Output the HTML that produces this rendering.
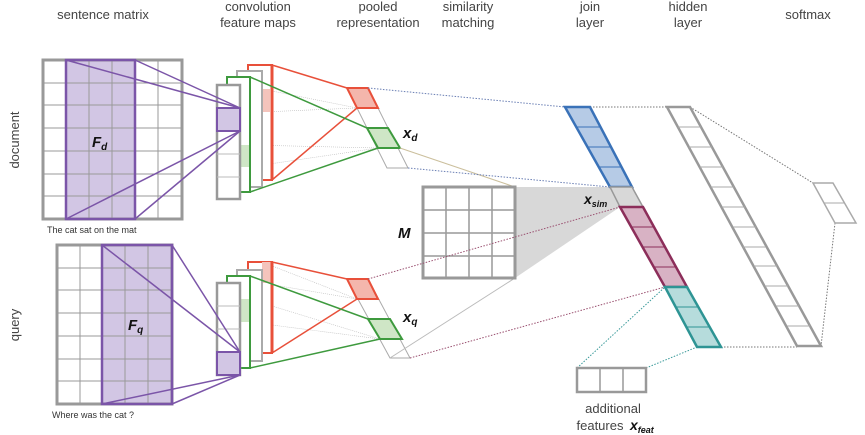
<!DOCTYPE html>
<html><head><meta charset="utf-8"><style>
html,body{margin:0;padding:0;background:#fff;}
svg{display:block;font-family:"Liberation Sans",sans-serif;}
.h{font-size:13px;fill:#444;text-anchor:middle;}
.w{font-size:9px;fill:#333;}
.b{font-weight:bold;font-style:italic;fill:#111;}
</style></head><body>
<svg width="865" height="435" viewBox="0 0 865 435">
<!-- headers -->
<text class="h" x="103" y="19">sentence matrix</text>
<text class="h" x="258" y="11">convolution</text>
<text class="h" x="258" y="27">feature maps</text>
<text class="h" x="378" y="11">pooled</text>
<text class="h" x="378" y="27">representation</text>
<text class="h" x="468" y="11">similarity</text>
<text class="h" x="468" y="27">matching</text>
<text class="h" x="590" y="11">join</text>
<text class="h" x="590" y="27">layer</text>
<text class="h" x="688" y="11">hidden</text>
<text class="h" x="688" y="27">layer</text>
<text class="h" x="808" y="19">softmax</text>
<text class="h" transform="translate(19,140) rotate(-90)">document</text>
<text class="h" transform="translate(19,325) rotate(-90)">query</text>

<!-- faint connector lines conv->pooled -->
<g stroke="#bbb" stroke-width="0.6" stroke-dasharray="1,1" fill="none">
<line x1="262" y1="89" x2="357" y2="108"/><line x1="262" y1="112" x2="357" y2="108"/>
<line x1="249" y1="145" x2="378" y2="148"/><line x1="249" y1="167" x2="378" y2="148"/>
<line x1="262" y1="262" x2="357" y2="299"/><line x1="262" y1="283" x2="357" y2="299"/>
<line x1="249" y1="299" x2="380" y2="339"/><line x1="249" y1="322" x2="380" y2="339"/>
</g>

<!-- doc sentence matrix -->
<rect x="66" y="60" width="69" height="159" fill="#d2c6e4"/>
<g stroke="#999" stroke-width="1">
<line x1="66" y1="60" x2="66" y2="219"/><line x1="89" y1="60" x2="89" y2="219"/><line x1="112" y1="60" x2="112" y2="219"/><line x1="135" y1="60" x2="135" y2="219"/><line x1="158" y1="60" x2="158" y2="219"/>
<line x1="43" y1="83" x2="182" y2="83"/><line x1="43" y1="105" x2="182" y2="105"/><line x1="43" y1="128" x2="182" y2="128"/><line x1="43" y1="151" x2="182" y2="151"/><line x1="43" y1="174" x2="182" y2="174"/><line x1="43" y1="196" x2="182" y2="196"/>
</g>
<rect x="43" y="60" width="139" height="159" fill="none" stroke="#999" stroke-width="3"/>
<rect x="66" y="60" width="69" height="159" fill="none" stroke="#7b55a8" stroke-width="2.5"/>
<text class="b" x="92" y="147" font-size="15">F<tspan font-size="10" dy="3">d</tspan></text>
<text class="w" x="47" y="233">The  cat  sat  on  the  mat</text>

<!-- doc conv maps -->
<rect x="248" y="65" width="24" height="115" fill="#fff" stroke="#e8503a" stroke-width="2"/>
<rect x="262" y="89" width="8" height="23" fill="#f4c4bc"/>
<line x1="272" y1="65" x2="272" y2="180" stroke="#e8503a" stroke-width="3"/>
<rect x="237" y="71" width="25" height="116" fill="#fff" stroke="#aaa" stroke-width="2"/>
<rect x="227" y="77" width="23" height="115" fill="#fff" stroke="#3e9a3e" stroke-width="2"/>
<rect x="241" y="145" width="8" height="22" fill="#cfe6c6"/>
<rect x="217" y="85" width="23" height="114" fill="#fff" stroke="#999" stroke-width="2.5"/>
<g stroke="#bbb"><line x1="217" y1="131" x2="240" y2="131"/><line x1="217" y1="154" x2="240" y2="154"/><line x1="217" y1="177" x2="240" y2="177"/></g>
<rect x="217" y="108" width="23" height="23" fill="#d2c6e4" stroke="#7b55a8" stroke-width="2"/>
<g stroke="#7b55a8" stroke-width="1.5"><line x1="66" y1="60" x2="240" y2="108"/><line x1="135" y1="60" x2="240" y2="108"/><line x1="66" y1="219" x2="240" y2="131"/><line x1="135" y1="219" x2="240" y2="131"/></g>

<!-- doc pooled -->
<polygon points="347,88 368,88 408,168 387,168" fill="#fff" stroke="#aaa" stroke-width="1"/>
<polygon points="347,88 368,88 378,108 357,108" fill="#f4b6ac" stroke="#e8503a" stroke-width="2"/>
<polygon points="367,128 388,128 400,148 378,148" fill="#cfe6c6" stroke="#3e9a3e" stroke-width="2"/>
<g stroke="#e8503a" stroke-width="1.5"><line x1="272" y1="65" x2="347" y2="88"/><line x1="272" y1="180" x2="357" y2="108"/></g>
<g stroke="#3e9a3e" stroke-width="1.5"><line x1="250" y1="77" x2="367" y2="128"/><line x1="250" y1="192" x2="378" y2="148"/></g>
<text class="b" x="403" y="138" font-size="15">x<tspan font-size="10" dy="3">d</tspan></text>

<!-- query matrix -->
<rect x="102" y="245" width="70" height="159" fill="#d2c6e4"/>
<g stroke="#999" stroke-width="1">
<line x1="80" y1="245" x2="80" y2="404"/><line x1="102" y1="245" x2="102" y2="404"/><line x1="125" y1="245" x2="125" y2="404"/><line x1="148" y1="245" x2="148" y2="404"/>
<line x1="57" y1="268" x2="172" y2="268"/><line x1="57" y1="290" x2="172" y2="290"/><line x1="57" y1="313" x2="172" y2="313"/><line x1="57" y1="336" x2="172" y2="336"/><line x1="57" y1="359" x2="172" y2="359"/><line x1="57" y1="381" x2="172" y2="381"/>
</g>
<rect x="57" y="245" width="115" height="159" fill="none" stroke="#999" stroke-width="3"/>
<rect x="102" y="245" width="70" height="159" fill="none" stroke="#7b55a8" stroke-width="2.5"/>
<text class="b" x="128" y="330" font-size="15">F<tspan font-size="10" dy="3">q</tspan></text>
<text class="w" x="52" y="418">Where was  the   cat    ?</text>

<!-- query conv -->
<rect x="248" y="262" width="24" height="91" fill="#fff" stroke="#e8503a" stroke-width="2"/>
<rect x="262" y="262" width="9" height="21" fill="#f4c4bc"/>
<line x1="272" y1="262" x2="272" y2="353" stroke="#e8503a" stroke-width="3"/>
<rect x="237" y="270" width="25" height="91" fill="#fff" stroke="#aaa" stroke-width="2"/>
<rect x="227" y="276" width="23" height="92" fill="#fff" stroke="#3e9a3e" stroke-width="2"/>
<rect x="241" y="299" width="8" height="23" fill="#cfe6c6"/>
<rect x="217" y="283" width="23" height="92" fill="#fff" stroke="#999" stroke-width="2.5"/>
<g stroke="#bbb"><line x1="217" y1="306" x2="240" y2="306"/><line x1="217" y1="329" x2="240" y2="329"/></g>
<rect x="217" y="352" width="23" height="23" fill="#d2c6e4" stroke="#7b55a8" stroke-width="2"/>
<g stroke="#7b55a8" stroke-width="1.5"><line x1="102" y1="245" x2="240" y2="352"/><line x1="172" y1="245" x2="240" y2="352"/><line x1="102" y1="404" x2="240" y2="375"/><line x1="172" y1="404" x2="240" y2="375"/></g>

<!-- query pooled -->
<polygon points="347,279 368,279 410,358 390,358" fill="#fff" stroke="#aaa" stroke-width="1"/>
<polygon points="347,279 368,279 378,299 357,299" fill="#f4b6ac" stroke="#e8503a" stroke-width="2"/>
<polygon points="368,319 390,319 402,339 380,339" fill="#cfe6c6" stroke="#3e9a3e" stroke-width="2"/>
<g stroke="#e8503a" stroke-width="1.5"><line x1="272" y1="262" x2="347" y2="279"/><line x1="272" y1="353" x2="357" y2="299"/></g>
<g stroke="#3e9a3e" stroke-width="1.5"><line x1="250" y1="276" x2="368" y2="319"/><line x1="250" y1="368" x2="380" y2="339"/></g>
<text class="b" x="403" y="322" font-size="15">x<tspan font-size="10" dy="3">q</tspan></text>

<!-- M and similarity -->
<polygon points="515,187 614,187 620,207 515,278" fill="#d8d8d8"/>
<line x1="400" y1="148" x2="515" y2="187" stroke="#cbbf9c" stroke-width="1"/>
<line x1="390" y1="358" x2="515" y2="278" stroke="#bbb" stroke-width="1"/>
<rect x="423" y="187" width="92" height="91" fill="#fff" stroke="#999" stroke-width="3"/>
<g stroke="#999" stroke-width="1.5"><line x1="446" y1="187" x2="446" y2="278"/><line x1="469" y1="187" x2="469" y2="278"/><line x1="492" y1="187" x2="492" y2="278"/><line x1="423" y1="210" x2="515" y2="210"/><line x1="423" y1="233" x2="515" y2="233"/><line x1="423" y1="256" x2="515" y2="256"/></g>
<text class="b" x="398" y="238" font-size="15">M</text>

<!-- dotted links to join -->
<g fill="none" stroke-width="1" stroke-dasharray="1.5,1.5">
<line x1="368" y1="88" x2="565" y2="107" stroke="#6a7fb4"/>
<line x1="408" y1="168" x2="610" y2="187" stroke="#6a7fb4"/>
<line x1="368" y1="279" x2="620" y2="207" stroke="#9a5070"/>
<line x1="410" y1="358" x2="665" y2="287" stroke="#9a5070"/>
<line x1="577" y1="368" x2="665" y2="287" stroke="#3a9a9a"/>
<line x1="646" y1="368" x2="697" y2="347" stroke="#3a9a9a"/>
<line x1="590" y1="107" x2="667" y2="107" stroke="#777"/>
<line x1="721" y1="347" x2="797" y2="347" stroke="#777"/>
<line x1="690" y1="107" x2="813" y2="183" stroke="#777"/>
<line x1="835" y1="223" x2="821" y2="346" stroke="#777"/>
</g>

<!-- join layer -->
<polygon points="565,107 590,107 632,187 610,187" fill="#b6cbe6" stroke="#3a72b8" stroke-width="2.5"/>
<g stroke="#3a72b8" stroke-width="1"><line x1="576" y1="127" x2="600" y2="127"/><line x1="587" y1="147" x2="611" y2="147"/><line x1="598" y1="167" x2="622" y2="167"/></g>
<polygon points="610,187 632,187 643,207 620,207" fill="#d8d8d8" stroke="#999" stroke-width="1.5"/>
<polygon points="620,207 643,207 687,287 665,287" fill="#d8b2c4" stroke="#8c2e5a" stroke-width="2.5"/>
<g stroke="#8c2e5a" stroke-width="1"><line x1="631" y1="227" x2="654" y2="227"/><line x1="642" y1="247" x2="665" y2="247"/><line x1="653" y1="267" x2="676" y2="267"/></g>
<polygon points="665,287 687,287 721,347 697,347" fill="#b6dcdc" stroke="#2e9494" stroke-width="2.5"/>
<g stroke="#2e9494" stroke-width="1"><line x1="676" y1="307" x2="698" y2="307"/><line x1="687" y1="327" x2="709" y2="327"/></g>
<text class="b" x="584" y="204" font-size="14">x<tspan font-size="9" dy="3">sim</tspan></text>

<!-- hidden layer -->
<polygon points="667,107 690,107 821,346 797,346" fill="#fff" stroke="#999" stroke-width="2.5"/>
<g stroke="#aaa" stroke-width="1">
<line x1="678" y1="127" x2="701" y2="127"/><line x1="689" y1="147" x2="712" y2="147"/><line x1="700" y1="167" x2="723" y2="167"/><line x1="711" y1="187" x2="734" y2="187"/><line x1="722" y1="207" x2="745" y2="207"/><line x1="733" y1="227" x2="756" y2="227"/><line x1="743" y1="247" x2="766" y2="247"/><line x1="754" y1="266" x2="777" y2="266"/><line x1="765" y1="286" x2="788" y2="286"/><line x1="776" y1="306" x2="799" y2="306"/><line x1="787" y1="326" x2="810" y2="326"/>
</g>
<!-- softmax -->
<polygon points="813,183 833,183 856,223 835,223" fill="#fff" stroke="#aaa" stroke-width="1.5"/>
<line x1="824" y1="203" x2="845" y2="203" stroke="#aaa"/>

<!-- additional features -->
<rect x="577" y="368" width="69" height="24" fill="#fff" stroke="#999" stroke-width="2.5"/>
<g stroke="#999" stroke-width="1.5"><line x1="600" y1="368" x2="600" y2="392"/><line x1="623" y1="368" x2="623" y2="392"/></g>
<text class="h" x="613" y="413">additional</text>
<text class="h" x="600" y="430">features</text>
<text class="b" x="630" y="430" font-size="14">x<tspan font-size="9" dy="3">feat</tspan></text>
</svg>
</body></html>
